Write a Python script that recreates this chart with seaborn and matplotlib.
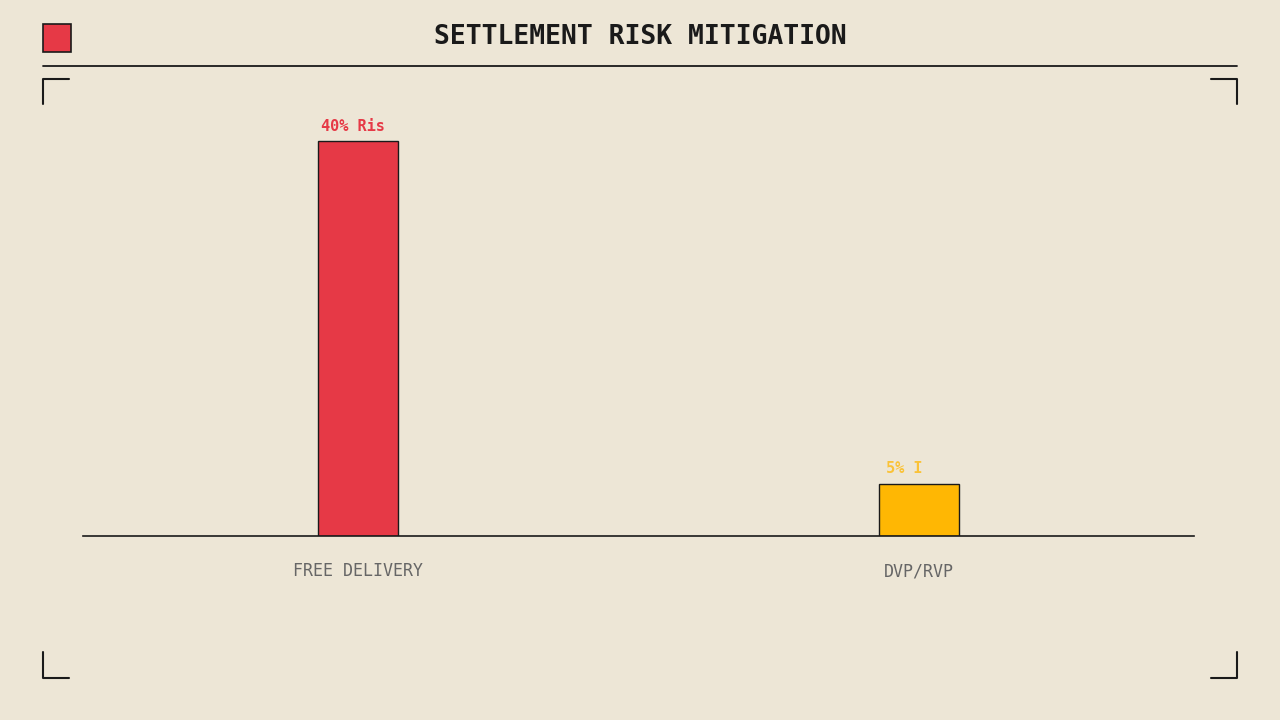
import matplotlib
matplotlib.use("Agg")
import matplotlib.pyplot as plt
from matplotlib.lines import Line2D
from matplotlib.patches import Rectangle
import seaborn as sns

# -----------------------------
# data
# -----------------------------
categories = ["FREE DELIVERY", "DVP/RVP"]
risk_values = [40, 5.3]
bar_labels = ["40% Ris", "5% I"]
bar_colors = ["#E63946", "#FFB703"]

BG = "#EDE6D6"
INK = "#1A1A1A"

sns.set_theme(style="white")
plt.rcParams["font.family"] = ["DejaVu Sans Mono", "DejaVu Sans"]

fig = plt.figure(figsize=(12.8, 7.2), dpi=100, facecolor=BG)
W, H = 1280, 720


def fx(px):
    return px / W


def fy(py):
    return 1 - py / H


ax = fig.add_axes([fx(83), fy(536), fx(1194) - fx(83), fy(92) - fy(536)])
ax.set_facecolor(BG)

sns.barplot(x=categories, y=risk_values, hue=categories, palette=bar_colors,
            width=0.141, edgecolor=INK, linewidth=1.0, saturation=1,
            legend=False, ax=ax)

ax.set_xlim(-0.49, 1.49)
ax.set_ylim(0, 45)
ax.set_yticks([])
ax.set_xlabel("")
ax.set_ylabel("")
for side in ["top", "left", "right"]:
    ax.spines[side].set_visible(False)
ax.spines["bottom"].set_color(INK)
ax.spines["bottom"].set_linewidth(1.2)
ax.tick_params(axis="x", length=0, pad=19, labelsize=12, labelcolor="#666666")

# value labels (partially typed text)
label_alpha = [1.0, 0.75]
for i, (v, lab) in enumerate(zip(risk_values, bar_labels)):
    ax.annotate(lab, xy=(i - 0.141 / 2, v), xytext=(2 if i == 0 else 5, 5.5),
                textcoords="offset points", ha="left", va="bottom",
                fontsize=11, fontweight="bold", color=bar_colors[i],
                alpha=label_alpha[i])

# -----------------------------
# header + frame decorations
# -----------------------------
fig.text(0.5, fy(37), "SETTLEMENT RISK MITIGATION", ha="center", va="center",
         fontsize=19, fontweight="bold", color=INK)
fig.patches.append(Rectangle((fx(43), fy(52)), fx(71) - fx(43), fy(24) - fy(52),
                             facecolor="#E63946", edgecolor=INK, linewidth=1.2,
                             transform=fig.transFigure, figure=fig))
fig.lines.append(Line2D([fx(43), fx(1237)], [fy(66), fy(66)], color=INK,
                        linewidth=1.3, transform=fig.transFigure))

corners = [
    ([43, 43, 69], [104, 79, 79]),
    ([1211, 1237, 1237], [79, 79, 104]),
    ([43, 43, 69], [652, 678, 678]),
    ([1211, 1237, 1237], [678, 678, 652]),
]
for xs, ys in corners:
    fig.lines.append(Line2D([fx(v) for v in xs], [fy(v) for v in ys], color=INK,
                            linewidth=1.5, transform=fig.transFigure))

fig.savefig("out.png", dpi=100, facecolor=BG)
